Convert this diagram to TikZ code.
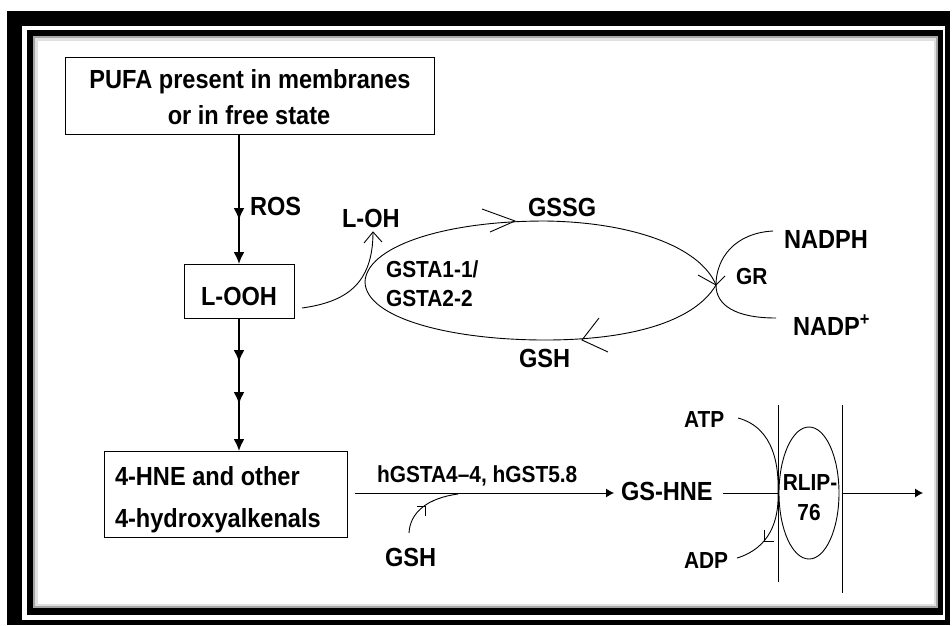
\documentclass[tikz,border=0pt]{standalone}
\usepackage{fontspec}
\setmainfont{Liberation Sans}[FakeStretch=0.9]
\usetikzlibrary{arrows.meta,decorations.markings,shapes.geometric}
\begin{document}
\begin{tikzpicture}[x=1pt,y=-1pt,
  big/.style={font=\fontsize{26.2}{30}\selectfont\bfseries, inner sep=0pt, outer sep=0pt},
  small/.style={font=\fontsize{23.2}{27}\selectfont\bfseries, inner sep=0pt, outer sep=0pt},
  box/.style={draw, line width=1pt, inner sep=0pt, outer sep=0pt},
  fine/.style={line width=0.9pt},
  heavy/.style={line width=2pt},
  bigtip/.style={-{Latex[length=12pt,width=11pt]}},
  smalltip/.style={-{Latex[length=8pt,width=9pt]}},
  midtips/.style={postaction={decorate}, decoration={markings, #1}},
]
% canvas and frame
\useasboundingbox (0,0) rectangle (952,625);
\fill[white] (0,0) rectangle (952,625);
\fill[black] (7,11) rectangle (950,625);
\fill[white] (22,26) rectangle (945,620);
\fill[black] (27,30) rectangle (943,615);
\fill[black!35] (33,36) rectangle (938,608);
\fill[black!12] (35,38) rectangle (936,606);
\fill[white] (38,41) rectangle (934,604);

% boxes
\node[box, minimum width=369pt, minimum height=77pt] (pufa) at (249.5,95.5) {};
\node[box, minimum width=110pt, minimum height=54pt] (looh) at (239,291) {};
\node[box, minimum width=243pt, minimum height=86pt] (hne) at (225.5,494) {};
\node[draw, fine, ellipse, minimum width=60pt, minimum height=132pt, inner sep=0pt] (rlip) at (809,493) {};

% texts
\node[big, anchor=base] (t1) at (250,88) {PUFA present in membranes};
\node[big, anchor=base] (t2) at (249,124) {or in free state};
\node[big, anchor=base west] (ros) at (250,215) {ROS};
\node[big, anchor=base] (looht) at (239,305) {L-OOH};
\node[big, anchor=base west] (loh) at (342,227) {L-OH};
\node[small, anchor=base west] (gsta1) at (386,277) {GSTA1-1/};
\node[small, anchor=base west] (gsta2) at (386,306) {GSTA2-2};
\node[big, anchor=base west] (gssg) at (528,216) {GSSG};
\node[big, anchor=base west] (nadph) at (784,248) {NADPH};
\node[small, anchor=base west] (gr) at (736,284) {GR};
\node[big, anchor=base west] (nadp) at (793,335) {NADP\textsuperscript{+}};
\node[big, anchor=base west] (gsh1) at (519,367) {GSH};
\node[big, anchor=base west] (hne1) at (115,485) {4-HNE and other};
\node[big, anchor=base west] (hne2) at (115,527) {4-hydroxyalkenals};
\node[small, anchor=base west] (enz) at (377,482) {hGSTA4–4, hGST5.8};
\node[big, anchor=base west] (gsh2) at (385,566) {GSH};
\node[big, anchor=base west] (gshne) at (621,500) {GS-HNE};
\node[small, anchor=base west] (atp) at (684,427) {ATP};
\node[small, anchor=base west] (adp) at (684,568) {ADP};
\node[small, anchor=base] (rlip1) at (810,490) {RLIP-};
\node[small, anchor=base] (rlip2) at (809,520) {76};

% coordinates
\coordinate (loohout) at (302,308);
\coordinate (lohin) at (373,232);
\coordinate (hneout) at (355,493);
\coordinate (gshnein) at (614,493);
\coordinate (gshneout) at (723,493);
\coordinate (memL) at (778,493);
\coordinate (memR) at (842,493);
\coordinate (exitpt) at (923,493);
\coordinate (gsh2out) at (409,533);
\coordinate (joinpt) at (458,494);
\coordinate (atpout) at (738,418);
\coordinate (adpin) at (737,558);
\coordinate (nadphout) at (773,231);
\coordinate (nadpin) at (776,318);
\coordinate (grpt) at (716,285);

% main vertical pathway
\draw[heavy, bigtip, midtips={mark=at position 86pt with {\arrow{Latex[length=12pt,width=11pt]}}}]
  (looh.north |- pufa.south) -- (looh.north);
\draw[heavy, bigtip, midtips={mark=at position 44pt with {\arrow{Latex[length=12pt,width=11pt]}},
                              mark=at position 86pt with {\arrow{Latex[length=12pt,width=11pt]}}}]
  (looh.south) -- (looh.south |- hne.north);

% glutathione cycle
\draw[fine] (grpt) .. controls (700,246) and (630,222) .. (545,221)
  .. controls (440,221) and (366,248) .. (365,282)
  .. controls (366,318) and (450,340) .. (545,340)
  .. controls (630,340) and (694,322) .. (grpt);
\draw[fine] (482,209) -- (515,221) -- (490,232);
\draw[fine] (599,318) -- (582,340) -- (608,352);
\draw[fine] (698,275) -- (grpt) -- (725,276);

% L-OOH -> L-OH
\draw[fine] (loohout) .. controls (345,302) and (373,285) .. (lohin);
\draw[fine] (364,243) -- (lohin) -- (382,242);

% NADPH -> NADP+
\draw[fine] (nadphout) .. controls (735,233) and (716,258) .. (grpt)
  .. controls (716,305) and (735,318) .. (nadpin);

% conjugation
\draw[fine, smalltip] (hneout) -- (gshnein);
\draw[fine] (gsh2out) .. controls (410,512) and (428,498) .. (joinpt);
\draw[fine] (417,506) -- (425,506) -- (425,516);

% transport
\draw[fine] (gshneout) -- (memL);
\draw[fine, smalltip] (memR) -- (exitpt);
\draw[fine] (778,405) -- (778,582);
\draw[fine] (842,405) -- (842,593);
\draw[fine] (atpout) .. controls (775,428) and (779,468) .. (memL)
  .. controls (779,520) and (770,548) .. (adpin);
\draw[fine] (764,530) -- (764,541) -- (774,541);
\end{tikzpicture}
\end{document}
